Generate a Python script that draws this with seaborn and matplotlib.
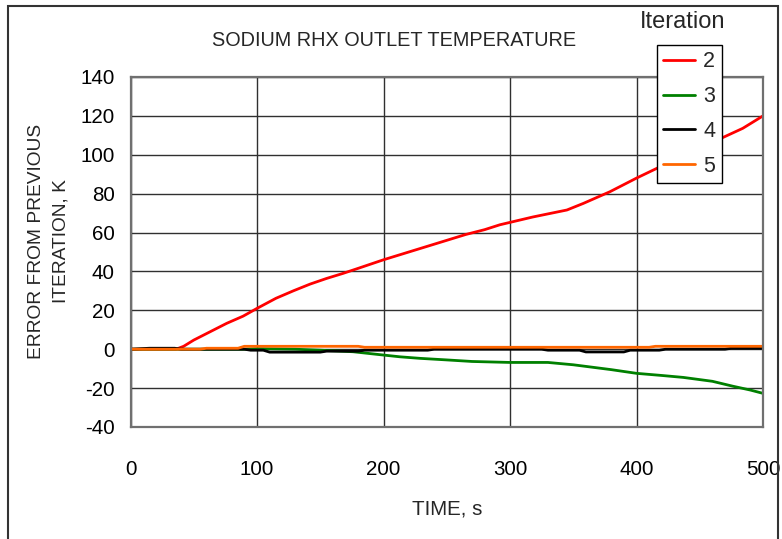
import matplotlib
matplotlib.use("Agg")
import matplotlib.pyplot as plt
import seaborn as sns
import pandas as pd
from matplotlib.patches import Rectangle

# ---- data ----
t2 = [0, 20, 36, 42, 50, 63, 76, 89, 100, 115, 129, 142, 155, 168, 180, 200, 215, 230,
      250, 265, 280, 292, 318, 345, 358, 379, 400, 416, 440, 467, 484, 500]
v2 = [0, 0, 0, 1.5, 4.7, 9, 13.3, 17, 21, 26.2, 30.1, 33.5, 36.4, 39, 41.6, 46, 49, 52,
      56, 59, 61.5, 64, 68, 71.6, 75, 81, 88, 93, 100, 108.5, 113.6, 120]

t3 = [0, 90, 100, 130, 150, 176, 200, 213, 229, 250, 270, 300, 330, 350, 380, 400, 420,
      437, 460, 476, 490, 500]
v3 = [0, 0, 0.3, 0, -0.5, -1.3, -3, -3.9, -4.7, -5.5, -6.3, -6.8, -6.8, -8, -10.5, -12.4,
      -13.5, -14.5, -16.5, -19, -21, -22.7]

t4 = [0, 15, 35, 40, 90, 95, 105, 110, 150, 155, 180, 185, 235, 240, 325, 330, 355, 360,
      390, 395, 418, 423, 470, 475, 500]
v4 = [0, 0.5, 0.5, 0, 0, -0.5, -0.5, -1.5, -1.5, -1, -1, -0.5, -0.5, 0, 0, -0.5, -0.5,
      -1.4, -1.4, -0.5, -0.5, 0, 0, 0.5, 0.5]

t5 = [0, 55, 60, 85, 90, 180, 185, 410, 415, 500]
v5 = [0, 0, 0.5, 0.5, 1.5, 1.5, 1, 1, 1.5, 1.5]

iterations = ["2", "3", "4", "5"]
colors = {"2": "#FF0000", "3": "#008000", "4": "#000000", "5": "#FF6600"}
xticks = [0, 100, 200, 300, 400, 500]
yticks = [-40, -20, 0, 20, 40, 60, 80, 100, 120, 140]

frames = []
for it, t, v in zip(iterations, [t2, t3, t4, t5], [v2, v3, v4, v5]):
    frames.append(pd.DataFrame({"TIME": t, "ERR": v, "Iteration": it}))
df = pd.concat(frames, ignore_index=True)

# ---- style ----
sns.set_style("white")
fam = ["Liberation Sans", "DejaVu Sans"]
plt.rcParams["font.family"] = fam

W, H = 782, 539
fig = plt.figure(figsize=(W / 100, H / 100), dpi=100)
fig.patch.set_facecolor("white")
ax = fig.add_axes([130.5 / W, 1 - 427 / H, (763 - 130.5) / W, (427 - 77) / H])

sns.lineplot(data=df, x="TIME", y="ERR", hue="Iteration", hue_order=iterations,
             palette=colors, linewidth=2.0, ax=ax, estimator=None, sort=False)

ax.set_xlim(0, 500)
ax.set_ylim(-40, 140)
ax.set_xticks(xticks)
ax.set_yticks(yticks)
ax.set_xticklabels([str(x) for x in xticks])
ax.set_yticklabels([str(y) for y in yticks])
ax.tick_params(axis="both", labelsize=14.8, colors="#000000", length=4.5, width=1.0,
               direction="out", color="#707070")
ax.tick_params(axis="x", pad=19)
ax.tick_params(axis="y", pad=7)
ax.grid(True, color="#303030", linewidth=1.0)
ax.set_axisbelow(True)
for s in ax.spines.values():
    s.set_visible(True)
    s.set_color("#707070")
    s.set_linewidth(1.6)

ax.set_xlabel("TIME, s", fontsize=14.8, labelpad=15)
ax.set_ylabel("ERROR FROM PREVIOUS\nITERATION, K", fontsize=13.8, linespacing=1.55)
ax.yaxis.set_label_coords((69 - 130.5) / (763 - 130.5), 1 - (241 - 77) / 350)

fig.text(394.5 / W, 1 - 40 / H, "SODIUM RHX OUTLET TEMPERATURE", ha="center", va="center",
         fontsize=14.3)
fig.text(683 / W, 1 - 22 / H, "Iteration", ha="center", va="center", fontsize=17)

handles, labels = ax.get_legend_handles_labels()
leg = ax.legend(handles, labels, loc="upper left",
                bbox_to_anchor=(657 / W, 1 - 45 / H), bbox_transform=fig.transFigure,
                borderaxespad=0, fontsize=15.5, frameon=True, fancybox=False, framealpha=1,
                edgecolor="#000000", handlelength=1.45, handletextpad=0.4,
                labelspacing=0.64, borderpad=0.3, handleheight=0.7)
leg.get_frame().set_linewidth(1.0)
for line in leg.get_lines():
    line.set_linewidth(2.0)

fig.add_artist(Rectangle((7.5 / W, -0.05), (778 - 7.5) / W, 1.05 - 5.5 / H,
                         transform=fig.transFigure, fill=False, edgecolor="#333333",
                         linewidth=1.5))

fig.savefig("out.png", dpi=100, facecolor="white")
